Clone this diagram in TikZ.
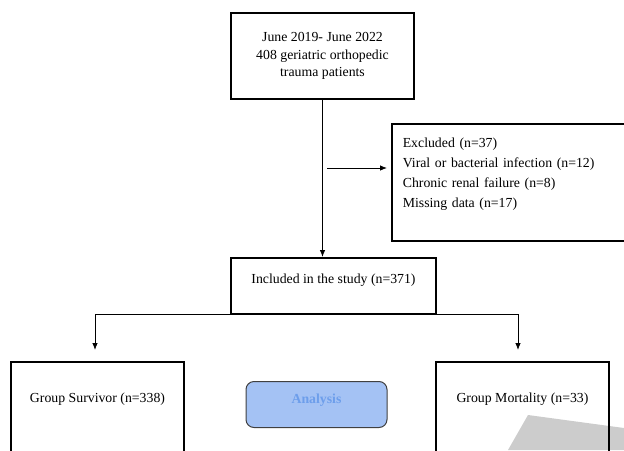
\documentclass[tikz,border=0pt]{standalone}
\usepackage{fontspec}
\setmainfont{Liberation Serif}
\usetikzlibrary{arrows.meta}
\definecolor{anafill}{HTML}{A4C2F4}
\definecolor{anatext}{HTML}{6D9EEB}
\definecolor{anaedge}{HTML}{404040}
\definecolor{wmgray}{HTML}{CCCCCC}

\begin{document}
\begin{tikzpicture}[x=1pt,y=-1pt,semithick,
  box/.style={draw,line width=1.6pt,inner sep=0pt,font=\fontsize{13.8}{17.5}\selectfont},
  link/.style={line width=0.8pt,-{Latex[length=7pt,width=5.5pt]}}]
  \useasboundingbox (0,0) rectangle (624,450);
  \clip (0,0) rectangle (624,450);
  \fill[wmgray] (528,415) -- (624,428) -- (624,450) -- (508,450) -- cycle;

  \node[box,minimum width=183pt,minimum height=86pt,align=center] (patients) at (322.5,56) {June 2019- June 2022\\408 geriatric orthopedic\\trauma patients};
  \node[box,anchor=north west,minimum height=117pt,text width=220pt,inner xsep=11pt,align=left,
    font=\fontsize{13.8}{20}\selectfont] (excl) at (391,123) {Excluded (n=37)\\Viral or bacterial infection (n=12)\\Chronic renal failure (n=8)\\Missing data (n=17)\\~};
  \node[box,anchor=north,minimum width=205pt,text height=25.5pt,text depth=30.5pt] (incl) at (333.5,257) {Included in the study (n=371)};
  \node[box,anchor=north,minimum width=173pt,text height=40.5pt,text depth=78.5pt] (surv) at (97.5,361) {Group Survivor (n=338)};
  \node[box,anchor=north,minimum width=173pt,text height=40.5pt,text depth=78.5pt] (mort) at (522.5,361) {Group Mortality (n=33)};
  \node[box,anchor=north,draw=anaedge,line width=1pt,fill=anafill,rounded corners=8pt,text=anatext,
    minimum width=141pt,text height=21.5pt,text depth=24.5pt,font=\fontsize{13.8}{17.5}\selectfont\bfseries] (analysis) at (316.5,381) {Analysis};

  \coordinate (split) at (327,168);
  \draw[link] (patients.south) -- (patients.south |- incl.north);
  \draw[link,shorten >=4pt] (split) -- (split -| excl.west);
  \draw[link,shorten >=11pt] (incl.south west) -| ([xshift=-2.5pt]surv.north);
  \draw[link,shorten >=11pt] (incl.south east) -| ([xshift=-4.5pt]mort.north);
\end{tikzpicture}
\end{document}
